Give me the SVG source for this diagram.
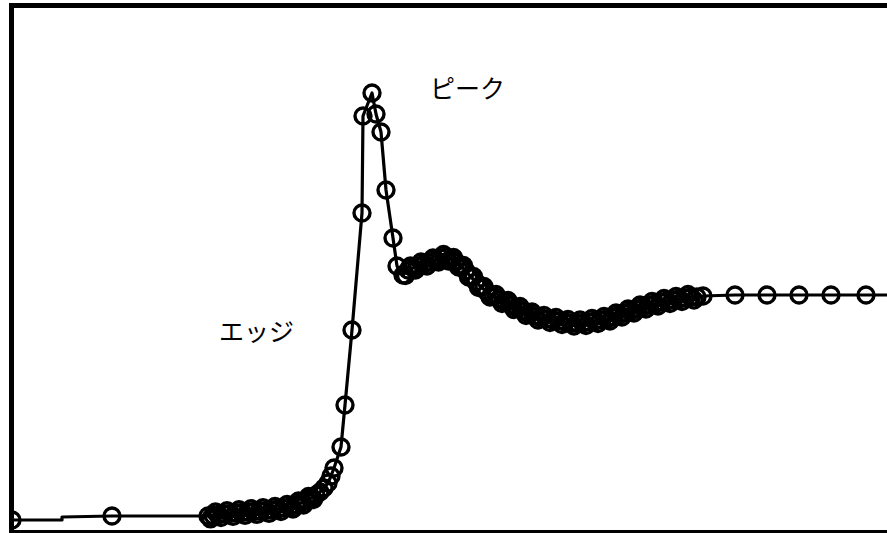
<svg xmlns="http://www.w3.org/2000/svg" width="887" height="533" viewBox="0 0 887 533">
<defs>
<clipPath id="plot"><rect x="12" y="6" width="880" height="526"/></clipPath>
</defs>
<style>
.ln{fill:none;stroke:#000;stroke-width:3.2;stroke-linejoin:round}
.m{fill:none;stroke:#000;stroke-width:3.4}
.lbl{font-family:"Noto Sans CJK JP","Noto Sans",sans-serif;font-size:25px;fill:#000}
.frame{fill:none;stroke:#000;stroke-width:5}
</style>
<rect width="887" height="533" fill="#fff"/>
<g clip-path="url(#plot)">
<g id="connectors">
<polyline class="ln" points="12,520 62,520 62,517 112,516 208,516 213,515.5 218,515 224,514 230,513.5 236,513 242,512.5 248,512 254,511.5 260,511 266,510.5 272,510 278,509 284,508 290,507 296,505 301,503 306,501 311,498 316,495 320,492 324,488 328,483 331,476 334,468 341,447 345,405 352,330 362,213 363,116 372,93 376,114 381,132 386,190 393,238 397,266 403,275 408,270 413,268 418,266 424,264 430,262 436,260 441,258 446,257 451,259 456,262 461,266 466,271 471,277 476,282 481,287 487,292 493,296 499,299 505,302 511,305 517,308 523,311 529,314 535,316 541,318 547,319 553,320 559,321 565,322 571,323 577,323 583,323 589,322 595,321 601,320 607,319 613,317 619,315 625,313 631,311 637,309 643,307 649,305 655,304 661,302 667,301 673,300 679,299 685,298 691,297 697,297 703,296 735,295 767,295 799,295 831,295 866,295 887,295"/>
</g>
<g id="markers">
<circle class="m" cx="12" cy="520" r="8"/><circle class="m" cx="112" cy="516" r="8"/>
<circle class="m" cx="208" cy="516" r="8"/><circle class="m" cx="213" cy="515.5" r="8"/><circle class="m" cx="218" cy="515" r="8"/><circle class="m" cx="224" cy="514" r="8"/><circle class="m" cx="230" cy="513.5" r="8"/><circle class="m" cx="236" cy="513" r="8"/><circle class="m" cx="242" cy="512.5" r="8"/><circle class="m" cx="248" cy="512" r="8"/><circle class="m" cx="254" cy="511.5" r="8"/><circle class="m" cx="260" cy="511" r="8"/><circle class="m" cx="266" cy="510.5" r="8"/><circle class="m" cx="272" cy="510" r="8"/><circle class="m" cx="278" cy="509" r="8"/><circle class="m" cx="284" cy="508" r="8"/><circle class="m" cx="290" cy="507" r="8"/><circle class="m" cx="296" cy="505" r="8"/><circle class="m" cx="301" cy="503" r="8"/><circle class="m" cx="306" cy="501" r="8"/><circle class="m" cx="311" cy="498" r="8"/><circle class="m" cx="316" cy="495" r="8"/><circle class="m" cx="320" cy="492" r="8"/><circle class="m" cx="324" cy="488" r="8"/><circle class="m" cx="328" cy="483" r="8"/><circle class="m" cx="331" cy="476" r="8"/><circle class="m" cx="334" cy="468" r="8"/>
<circle class="m" cx="210.5" cy="518.8" r="8"/><circle class="m" cx="215.5" cy="512" r="8"/><circle class="m" cx="221" cy="517.5" r="8"/><circle class="m" cx="227" cy="510.8" r="8"/><circle class="m" cx="233" cy="516.3" r="8"/><circle class="m" cx="239" cy="509.8" r="8"/><circle class="m" cx="245" cy="515.3" r="8"/><circle class="m" cx="251" cy="508.8" r="8"/><circle class="m" cx="257" cy="514.3" r="8"/><circle class="m" cx="263" cy="507.8" r="8"/><circle class="m" cx="269" cy="513.3" r="8"/><circle class="m" cx="275" cy="506.5" r="8"/><circle class="m" cx="281" cy="511.5" r="8"/><circle class="m" cx="287" cy="504.5" r="8"/><circle class="m" cx="293" cy="509" r="8"/><circle class="m" cx="298.5" cy="501" r="8"/><circle class="m" cx="303.5" cy="505" r="8"/><circle class="m" cx="308.5" cy="496.5" r="8"/><circle class="m" cx="313.5" cy="499.5" r="8"/>
<circle class="m" cx="341" cy="447" r="8"/><circle class="m" cx="345" cy="405" r="8"/><circle class="m" cx="352" cy="330" r="8"/><circle class="m" cx="362" cy="213" r="8"/><circle class="m" cx="363" cy="116" r="8"/><circle class="m" cx="372" cy="93" r="8"/><circle class="m" cx="376" cy="114" r="8"/><circle class="m" cx="381" cy="132" r="8"/><circle class="m" cx="386" cy="190" r="8"/><circle class="m" cx="393" cy="238" r="8"/><circle class="m" cx="397" cy="266" r="8"/>
<circle class="m" cx="403" cy="275" r="8"/><circle class="m" cx="408" cy="270" r="8"/><circle class="m" cx="413" cy="268" r="8"/><circle class="m" cx="418" cy="266" r="8"/><circle class="m" cx="424" cy="264" r="8"/><circle class="m" cx="430" cy="262" r="8"/><circle class="m" cx="436" cy="260" r="8"/><circle class="m" cx="441" cy="258" r="8"/><circle class="m" cx="446" cy="257" r="8"/><circle class="m" cx="451" cy="259" r="8"/><circle class="m" cx="456" cy="262" r="8"/><circle class="m" cx="461" cy="266" r="8"/><circle class="m" cx="466" cy="271" r="8"/><circle class="m" cx="471" cy="277" r="8"/><circle class="m" cx="476" cy="282" r="8"/><circle class="m" cx="481" cy="287" r="8"/><circle class="m" cx="487" cy="292" r="8"/><circle class="m" cx="493" cy="296" r="8"/><circle class="m" cx="499" cy="299" r="8"/><circle class="m" cx="505" cy="302" r="8"/><circle class="m" cx="511" cy="305" r="8"/><circle class="m" cx="517" cy="308" r="8"/><circle class="m" cx="523" cy="311" r="8"/><circle class="m" cx="529" cy="314" r="8"/><circle class="m" cx="535" cy="316" r="8"/><circle class="m" cx="541" cy="318" r="8"/><circle class="m" cx="547" cy="319" r="8"/><circle class="m" cx="553" cy="320" r="8"/><circle class="m" cx="559" cy="321" r="8"/><circle class="m" cx="565" cy="322" r="8"/><circle class="m" cx="571" cy="323" r="8"/><circle class="m" cx="577" cy="323" r="8"/><circle class="m" cx="583" cy="323" r="8"/><circle class="m" cx="589" cy="322" r="8"/><circle class="m" cx="595" cy="321" r="8"/><circle class="m" cx="601" cy="320" r="8"/><circle class="m" cx="607" cy="319" r="8"/><circle class="m" cx="613" cy="317" r="8"/><circle class="m" cx="619" cy="315" r="8"/><circle class="m" cx="625" cy="313" r="8"/><circle class="m" cx="631" cy="311" r="8"/><circle class="m" cx="637" cy="309" r="8"/><circle class="m" cx="643" cy="307" r="8"/><circle class="m" cx="649" cy="305" r="8"/><circle class="m" cx="655" cy="304" r="8"/><circle class="m" cx="661" cy="302" r="8"/><circle class="m" cx="667" cy="301" r="8"/><circle class="m" cx="673" cy="300" r="8"/><circle class="m" cx="679" cy="299" r="8"/><circle class="m" cx="685" cy="298" r="8"/><circle class="m" cx="691" cy="297" r="8"/><circle class="m" cx="697" cy="297" r="8"/><circle class="m" cx="703" cy="296" r="8"/>
<circle class="m" cx="405.5" cy="275.5" r="8"/><circle class="m" cx="410.5" cy="266" r="8"/><circle class="m" cx="415.5" cy="270" r="8"/><circle class="m" cx="421" cy="262" r="8"/><circle class="m" cx="427" cy="266" r="8"/><circle class="m" cx="433" cy="258" r="8"/><circle class="m" cx="438.5" cy="262" r="8"/><circle class="m" cx="443.5" cy="254.5" r="8"/><circle class="m" cx="448.5" cy="261" r="8"/><circle class="m" cx="453.5" cy="257.5" r="8"/><circle class="m" cx="458.5" cy="267" r="8"/><circle class="m" cx="463.5" cy="265.5" r="8"/><circle class="m" cx="468.5" cy="277" r="8"/><circle class="m" cx="473.5" cy="276.5" r="8"/><circle class="m" cx="478.5" cy="287.5" r="8"/><circle class="m" cx="484" cy="286.5" r="8"/><circle class="m" cx="490" cy="297" r="8"/><circle class="m" cx="496" cy="294.5" r="8"/><circle class="m" cx="502" cy="303.5" r="8"/><circle class="m" cx="508" cy="300.5" r="8"/><circle class="m" cx="514" cy="309.5" r="8"/><circle class="m" cx="520" cy="306.5" r="8"/><circle class="m" cx="526" cy="315.5" r="8"/><circle class="m" cx="532" cy="312" r="8"/><circle class="m" cx="538" cy="320" r="8"/><circle class="m" cx="544" cy="315.5" r="8"/><circle class="m" cx="550" cy="322.5" r="8"/><circle class="m" cx="556" cy="317.5" r="8"/><circle class="m" cx="562" cy="324.5" r="8"/><circle class="m" cx="568" cy="319.5" r="8"/><circle class="m" cx="574" cy="326" r="8"/><circle class="m" cx="580" cy="320" r="8"/><circle class="m" cx="586" cy="325.5" r="8"/><circle class="m" cx="592" cy="318.5" r="8"/><circle class="m" cx="598" cy="323.5" r="8"/><circle class="m" cx="604" cy="316.5" r="8"/><circle class="m" cx="610" cy="321" r="8"/><circle class="m" cx="616" cy="313" r="8"/><circle class="m" cx="622" cy="317" r="8"/><circle class="m" cx="628" cy="309" r="8"/><circle class="m" cx="634" cy="313" r="8"/><circle class="m" cx="640" cy="305" r="8"/><circle class="m" cx="646" cy="309" r="8"/><circle class="m" cx="652" cy="301.5" r="8"/><circle class="m" cx="658" cy="306" r="8"/><circle class="m" cx="664" cy="298.5" r="8"/><circle class="m" cx="670" cy="303.5" r="8"/><circle class="m" cx="676" cy="296.5" r="8"/><circle class="m" cx="682" cy="301.5" r="8"/><circle class="m" cx="688" cy="294.5" r="8"/><circle class="m" cx="694" cy="300" r="8"/>
<circle class="m" cx="735" cy="295" r="8"/><circle class="m" cx="767" cy="295" r="8"/><circle class="m" cx="799" cy="295" r="8"/><circle class="m" cx="831" cy="295" r="8"/><circle class="m" cx="866" cy="295" r="8"/>
</g>
</g>
<g id="label-peak"><text class="lbl" x="430" y="98">ピーク</text></g>
<g id="label-edge"><text class="lbl" x="219" y="341">エッジ</text></g>
<g id="frame"><rect class="frame" x="11.5" y="5.5" width="900" height="527"/></g>
</svg>
